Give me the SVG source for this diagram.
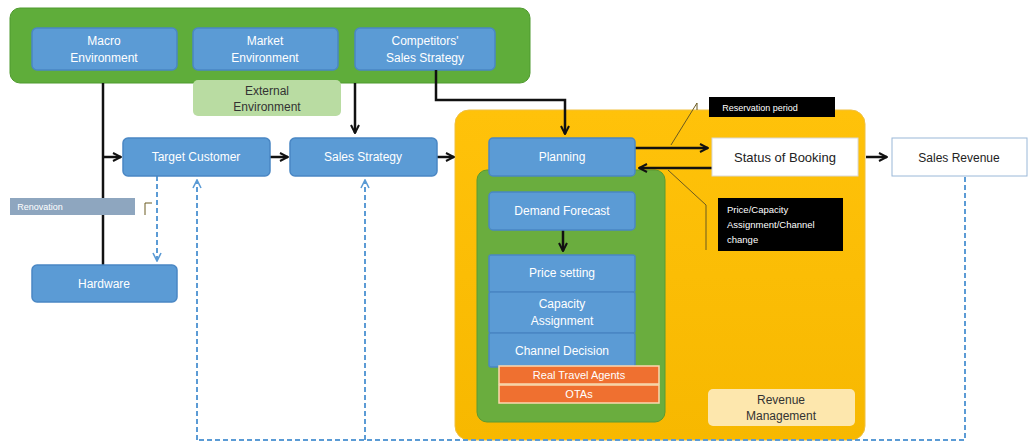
<svg xmlns="http://www.w3.org/2000/svg" width="1033" height="447" viewBox="0 0 1033 447">
<defs>
<style>
text{font-family:"Liberation Sans",Arial,sans-serif;font-size:12px;text-anchor:middle}
.b{fill:#5b9bd5;stroke:#4a87c4;stroke-width:1.5}
.bt{fill:#ffffff}
.k{stroke:#111;stroke-width:2.5;fill:none}
.d{stroke:#5b9bd5;stroke-width:2;stroke-dasharray:5 3;fill:none}
.c{stroke:#6b5a20;stroke-width:1;fill:none}
.o{fill:#ef7030;stroke:#fbd9b0;stroke-width:1.5}
</style>
<linearGradient id="og" x1="0" y1="0" x2="0" y2="1"><stop offset="0" stop-color="#ffc20a"/><stop offset="1" stop-color="#f7b800"/></linearGradient>
<marker id="ak" viewBox="0 0 10 10" refX="9" refY="5" markerWidth="4" markerHeight="4" orient="auto"><path d="M1,1 L9,5 L1,9" fill="none" stroke="#111" stroke-width="2"/></marker>
<marker id="ab" viewBox="0 0 10 10" refX="9" refY="5" markerWidth="5" markerHeight="5" orient="auto"><path d="M1,1 L9,5 L1,9" fill="none" stroke="#5b9bd5" stroke-width="1.6"/></marker>
</defs>
<rect width="1033" height="447" fill="#ffffff"/>
<g id="external">
<rect x="10" y="8" width="520" height="75" rx="10" fill="#5fad3a" stroke="#4f9a2e"/>
</g>
<g id="external-label"><rect x="193" y="80" width="148" height="36" rx="5" fill="#b9dca2"/><text x="267" y="95" fill="#333">External</text><text x="267" y="111" fill="#333">Environment</text></g>
<g id="macro"><rect class="b" x="32" y="28" width="145" height="42" rx="5"/><text class="bt" x="104" y="45">Macro</text><text class="bt" x="104" y="62">Environment</text></g>
<g id="market"><rect class="b" x="193" y="28" width="145" height="42" rx="5"/><text class="bt" x="265" y="45">Market</text><text class="bt" x="265" y="62">Environment</text></g>
<g id="competitors"><rect class="b" x="355" y="28" width="140" height="42" rx="5"/><text class="bt" x="425" y="45">Competitors'</text><text class="bt" x="425" y="62">Sales Strategy</text></g>
<g id="rm-container"><rect x="455" y="110" width="410" height="330" rx="14" fill="url(#og)" stroke="#f0c040"/></g>
<g id="rm-inner"><rect x="477" y="170" width="188" height="252" rx="10" fill="#6aad3e" stroke="#5a9a32"/></g>
<g id="connectors">
<path class="k" d="M103,83 V265"/>
<path class="k" d="M103,157 H121" marker-end="url(#ak)"/>
<path class="k" d="M355,83 V133" marker-end="url(#ak)"/>
<path class="k" d="M436,70 V100 H565 V134" marker-end="url(#ak)"/>
<path class="k" d="M270,157 H288" marker-end="url(#ak)"/>
<path class="k" d="M437,157 H454" marker-end="url(#ak)"/>
<path class="k" d="M563,230 V251" marker-end="url(#ak)"/>
<path class="k" d="M635,148 H708" marker-end="url(#ak)"/>
<path class="k" d="M712,168 H639" marker-end="url(#ak)"/>
<path class="k" d="M866,157 H887" marker-end="url(#ak)"/>
<path class="d" d="M157,176 V261" marker-end="url(#ab)"/>
<path class="d" d="M197,440 V180" marker-end="url(#ab)"/>
<path class="d" d="M365,440 V180" marker-end="url(#ab)"/>
<path class="d" d="M965,177 V440 H197"/>
<path class="c" d="M671,145 L697,103 M697,103 V110"/>
<path class="c" d="M668,170 L706,205 V250"/>
<path class="c" d="M145,215 V203 H152"/>
</g>
<g id="target-customer"><rect class="b" x="123" y="138" width="147" height="38" rx="5"/><text class="bt" x="196" y="161">Target Customer</text></g>
<g id="sales-strategy"><rect class="b" x="290" y="138" width="147" height="38" rx="5"/><text class="bt" x="363" y="161">Sales Strategy</text></g>
<g id="renovation"><rect x="10" y="198" width="125" height="17" fill="#8ea6bf"/><text x="40" y="210" fill="#fff" style="font-size:9px">Renovation</text></g>
<g id="hardware"><rect class="b" x="32" y="265" width="145" height="37" rx="5"/><text class="bt" x="104" y="288">Hardware</text></g>
<g id="planning"><rect class="b" x="489" y="138" width="146" height="38" rx="4"/><text class="bt" x="562" y="161">Planning</text></g>
<g id="demand-forecast"><rect class="b" x="489" y="192" width="146" height="38" rx="4"/><text class="bt" x="562" y="215">Demand Forecast</text></g>
<g id="price-setting"><rect class="b" x="489" y="255" width="146" height="37" rx="2"/><text class="bt" x="562" y="277">Price setting</text></g>
<g id="capacity"><rect class="b" x="489" y="292" width="146" height="41" rx="2"/><text class="bt" x="562" y="308">Capacity</text><text class="bt" x="562" y="325">Assignment</text></g>
<g id="channel"><rect class="b" x="489" y="333" width="146" height="34" rx="2"/><text class="bt" x="562" y="355">Channel Decision</text></g>
<g id="travel-agents"><rect class="o" x="499" y="366" width="160" height="18"/><text class="bt" x="579" y="379" style="font-size:11px">Real Travel Agents</text></g>
<g id="otas"><rect class="o" x="499" y="385" width="160" height="18"/><text class="bt" x="579" y="398" style="font-size:11px">OTAs</text></g>
<g id="reservation-period"><rect x="709" y="97" width="126" height="20" fill="#000"/><text x="760" y="111" fill="#fff" style="font-size:9px">Reservation period</text></g>
<g id="price-change"><rect x="718" y="198" width="125" height="53" fill="#000"/><text x="727" y="213" fill="#fff" style="font-size:9.5px;text-anchor:start">Price/Capacity</text><text x="727" y="228" fill="#fff" style="font-size:9.5px;text-anchor:start">Assignment/Channel</text><text x="727" y="243" fill="#fff" style="font-size:9.5px;text-anchor:start">change</text></g>
<g id="status-booking"><rect x="712" y="138" width="146" height="38" fill="#fff" stroke="#d8d8d8"/><text x="785" y="162" fill="#222" style="font-size:13px">Status of Booking</text></g>
<g id="sales-revenue"><rect x="892" y="138" width="135" height="38" fill="#fff" stroke="#9ab8d8"/><text x="959" y="162" fill="#222">Sales Revenue</text></g>
<g id="rm-label"><rect x="708" y="389" width="147" height="37" rx="5" fill="#fde7ad"/><text x="781" y="404" fill="#333">Revenue</text><text x="781" y="420" fill="#333">Management</text></g>
</svg>
